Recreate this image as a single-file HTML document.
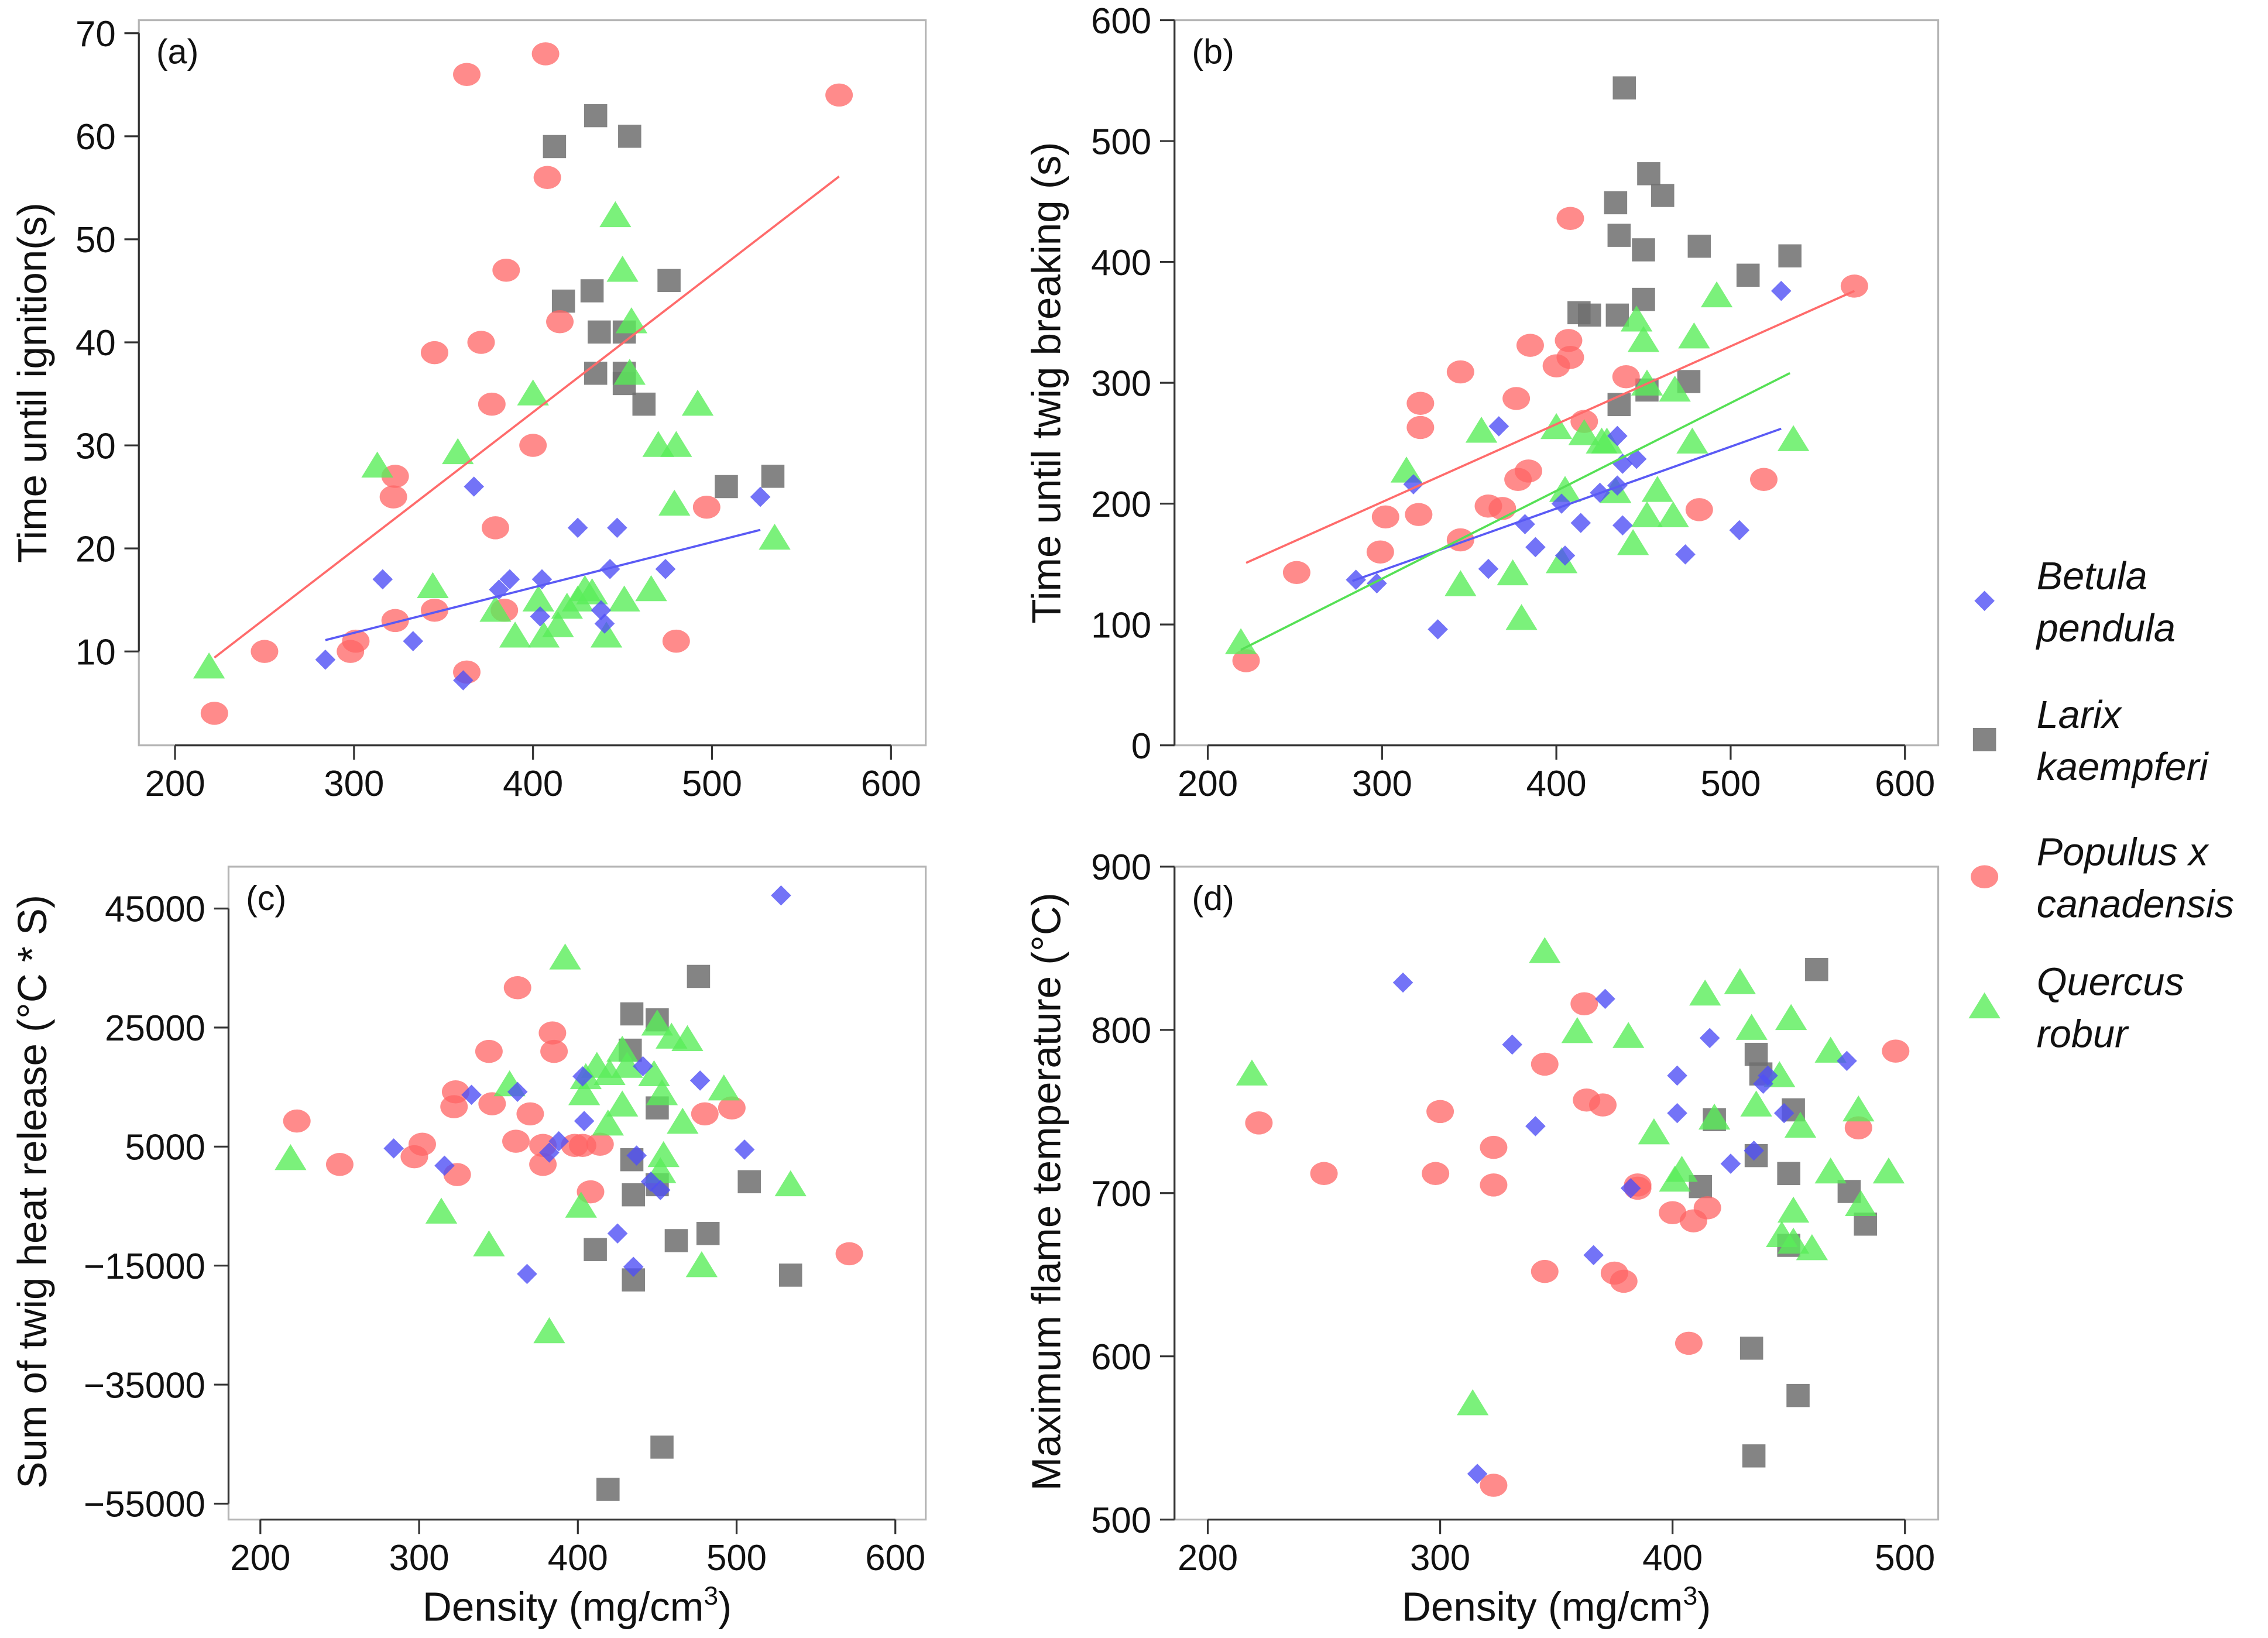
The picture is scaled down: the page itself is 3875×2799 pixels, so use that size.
<!DOCTYPE html>
<html><head><meta charset="utf-8"><style>
html,body{margin:0;padding:0;background:#fff;}
svg{display:block;font-family:"Liberation Sans",sans-serif;}
</style></head><body>
<svg id="fig" width="3875" height="2799" viewBox="0 0 1568 1134" preserveAspectRatio="none" xmlns="http://www.w3.org/2000/svg"></svg>
<script>
// ---- Panel (a): time until ignition ----
const aBetX=[284,316,333,361,367,381,387,404,405,425,438,440,443,447,474,527];
const aBetY=[9.2,17,11,7.2,26,16,17,13.4,17,22,14,12.7,18,22,18,25];
const aLarX=[412,435,454,417,433,437,435,451,451,462,476,508,534,451];
const aLarY=[59,62,60,44,45,41,37,37,36,34,46,26,27,41,41];
const aPopX=[222,250,298,301,323,322,323,345,345,363,363,371,377,379,385,384,400,407,408,415,480,497,571];
const aPopY=[4,10,10,11,27,25,13,39,14,66,8,40,34,22,47,14,30,68,56,42,11,24,64];
const aQueX=[219,313,344,358,379,390,400,403,406,414,419,425,429,433,441,446,450,451,455,454,466,470,480,479,492,535];
const aQueY=[8.5,28,16.3,29.3,14,11.5,35,15,11.5,12.5,14.3,15,16,15.7,11.5,52.3,47,15,42,37,16,30,30,24.3,34,21];
const aLineBet=[[284,11.1],[527,21.8]];
const aLinePop=[[222,9.4],[571,56.1]];
// ---- Panel (b): time until twig breaking ----
const bBetX=[285,297,318,332,361,367,382,388,403,405,414,425,435,435,438,438,446,474,505,529];
const bBetY=[137,134,216,96,146,264,183,164,200,157,184,209,215,256,182,233,237,158,178,376];
const bLarX=[439,453,434,461,436,450,482,510,534,413,419,435,450,436,452,476];
const bLarY=[544,473,449,455,422,410,413,389,405,358,356,356,369,282,294,301];
const bPopX=[222,251,299,302,322,322,321,345,345,361,369,377,378,384,385,400,408,407,408,416,440,482,519,571];
const bPopY=[70,143,160,189,283,263,191,309,170,198,196,287,220,227,331,314,436,335,321,268,305,195,220,380];
const bQueX=[219,314,345,357,375,380,400,403,405,416,426,429,434,444,446,450,452,452,458,467,468,479,478,492,536];
const bQueY=[85,227,133,260,142,105,263,152,211,258,251,251,210,167,352,335,299,190,211,190,294,338,251,372,253];
const bLineBet=[[283,136],[529,262]];
const bLinePop=[[222,151],[571,376]];
const bLineQue=[[219,79],[534,308]];
// ---- Panel (c): sum of twig heat release ----
const cBetX=[284,316,333,362,368,382,388,404,403,425,435,437,441,446,452,477,505,528];
const cBetY=[4700,1800,13700,14200,-16400,4000,5900,9300,16800,-9600,-15200,3500,18500,-900,-2300,16100,4500,47200];
const cLarX=[419,433,434,450,453,476,411,434,435,435,450,450,462,482,508,534];
const cLarY=[-52600,21200,27300,26300,-45500,33600,-12300,2800,-3100,-17400,-1400,11500,-10800,-9600,-900,-16600];
const cPopX=[223,250,297,302,324,323,322,346,344,362,361,370,378,378,384,385,398,403,408,414,480,497,571];
const cPopY=[9300,2000,3300,5400,300,14200,11700,12200,21000,31700,5900,10500,2000,5200,24100,21000,5200,5200,-2600,5400,10500,11500,-13000];
const cQueX=[219,314,344,357,382,392,402,404,405,412,419,420,428,428,431,448,450,452,453,454,459,466,469,478,492,534];
const cQueY=[3000,-6000,-11500,15400,-26100,36700,-5000,13900,16600,18500,8800,17300,12000,21200,18500,17100,25600,800,13900,3500,23400,9100,23000,-15000,14700,-1400];
// ---- Panel (d): maximum flame temperature ----
const dBetX=[284,316,331,341,366,371,382,402,402,416,425,435,439,441,448,475];
const dBetY=[829,528,791,741,662,819,703,772,749,795,718,726,767,772,749,781];
const dLarX=[418,412,434,435,436,438,436,450,452,450,454,462,476,483];
const dLarY=[745,704,605,539,785,773,723,712,751,668,576,837,701,681];
const dPopX=[222,250,300,298,323,323,323,345,345,362,363,370,375,379,385,385,400,407,409,415,480,496];
const dPopY=[743,712,750,712,728,705,521,779,652,816,757,754,651,646,705,703,688,608,683,691,740,787];
const dQueX=[219,314,345,359,381,392,401,404,414,418,429,434,436,446,451,452,455,452,447,460,468,468,480,481,493];
const dQueY=[773,571,848,799,796,737,708,714,822,746,829,801,754,772,807,689,741,670,674,666,713,787,751,693,713];
// tick labels
const aYTicks=[10,20,30,40,50,60,70];
const bYTicks=[0,100,200,300,400,500,600];
const cYTicks=[-55000,-35000,-15000,5000,25000,45000];
const dYTicks=[500,600,700,800,900];
const xTicks6=[200,300,400,500,600];
const xTicks5=[200,300,400,500];

const NS="http://www.w3.org/2000/svg";
const svg=document.getElementById('fig');
function mk(tag,attrs,parent){const e=document.createElementNS(NS,tag);for(const k in attrs)e.setAttribute(k,attrs[k]);(parent||svg).appendChild(e);return e;}

const BLUE="rgba(80,80,245,0.8)",GREY="rgba(110,110,110,0.85)",RED="rgba(255,100,100,0.75)",GREEN="rgba(90,238,90,0.8)";

function marker(g,kind,x,y){
  let e;
  if(kind==='bet'){e=mk('polygon',{points:`${x},${y-7} ${x+7},${y} ${x},${y+7} ${x-7},${y}`,fill:BLUE},g);
    }
  else if(kind==='lar'){e=mk('rect',{x:x-8,y:y-8,width:16,height:16,fill:GREY},g);
    }
  else if(kind==='pop'){e=mk('ellipse',{cx:x,cy:y,rx:9.5,ry:8,fill:RED},g);
    }
  else {e=mk('polygon',{points:`${x},${y-10} ${x+11},${y+8} ${x-11},${y+8}`,fill:GREEN},g);
    }
  
}

function panel(cfg){
  const g=mk('g',{});
  
  
  const sx=v=>cfg.px0+(v-cfg.x0)*(cfg.px1-cfg.px0)/(cfg.x1-cfg.x0);
  const sy=v=>cfg.py0+(v-cfg.y0)*(cfg.py1-cfg.py0)/(cfg.y1-cfg.y0);
  const box=mk('rect',{x:cfg.L,y:cfg.T,width:cfg.R-cfg.L,height:cfg.B-cfg.T,fill:'none',stroke:'#b5b5b5','stroke-width':1.3},g);
  
  const ya=mk('g',{},g);
  mk('line',{x1:cfg.L,x2:cfg.L,y1:sy(cfg.yt[0]),y2:sy(cfg.yt[cfg.yt.length-1]),stroke:'#333','stroke-width':1.3},ya);
  cfg.yt.forEach(t=>{const y=sy(t);
    mk('line',{x1:cfg.L-10,x2:cfg.L,y1:y,y2:y,stroke:'#333','stroke-width':1.3},ya);
    const tx=mk('text',{x:cfg.L-16,y:y+9,'text-anchor':'end','font-size':25,fill:'#111'},ya);
    tx.textContent=(t<0?'\u2212'+(-t):String(t));
    });
  const xa=mk('g',{},g);
  mk('line',{x1:sx(cfg.xt[0]),x2:sx(cfg.xt[cfg.xt.length-1]),y1:cfg.B,y2:cfg.B,stroke:'#333','stroke-width':1.3},xa);
  cfg.xt.forEach(t=>{const x=sx(t);
    mk('line',{x1:x,x2:x,y1:cfg.B,y2:cfg.B+10,stroke:'#333','stroke-width':1.3},xa);
    const tx=mk('text',{x:x,y:cfg.B+35,'text-anchor':'middle','font-size':25,fill:'#111'},xa);
    tx.textContent=String(t);
    });
  const lab=mk('text',{x:cfg.L+12,y:cfg.T+30,'font-size':24,fill:'#111'},g);
  lab.textContent=cfg.label;
  const yt=mk('text',{x:0,y:0,'text-anchor':'middle','font-size':28,fill:'#111',transform:`translate(${cfg.ytx},${cfg.yty}) rotate(-90)`},g);
  yt.textContent=cfg.ytitle;
  if(cfg.xtitle){const xt=mk('text',{x:(cfg.L+cfg.R)/2,y:cfg.B+70,'text-anchor':'middle','font-size':28,fill:'#111'},g);
    xt.innerHTML='Density (mg/cm<tspan dy="-11" font-size="18">3</tspan><tspan dy="11">)</tspan>';
    }
  const pts=mk('g',{},g);
  cfg.series.forEach(s=>{s.x.forEach((v,i)=>marker(pts,s.k,sx(v),sy(s.y[i])));});
  (cfg.lines||[]).forEach(l=>{const ln=mk('line',{x1:sx(l.d[0][0]),y1:sy(l.d[0][1]),x2:sx(l.d[1][0]),y2:sy(l.d[1][1]),stroke:l.c,'stroke-width':1.5},g);
    });
}

panel({name:'panel-a-ignition',L:96,R:640,T:14,B:516,x0:200,x1:600,px0:121,px1:616,y0:70,y1:10,py0:23,py1:451,
  xt:xTicks6,yt:aYTicks,label:'(a)',ytitle:'Time until ignition(s)',ytx:32,yty:265,
  series:[{k:'lar',x:aLarX,y:aLarY},{k:'pop',x:aPopX,y:aPopY},{k:'que',x:aQueX,y:aQueY},{k:'bet',x:aBetX,y:aBetY}],
  lines:[{d:aLineBet,c:'#5a5af5'},{d:aLinePop,c:'#ff6b6b'}]});
panel({name:'panel-b-breaking',L:812,R:1340,T:14,B:516,x0:200,x1:600,px0:835,px1:1317,y0:0,y1:600,py0:516,py1:14,
  xt:xTicks6,yt:bYTicks,label:'(b)',ytitle:'Time until twig breaking (s)',ytx:733,yty:265,
  series:[{k:'lar',x:bLarX,y:bLarY},{k:'pop',x:bPopX,y:bPopY},{k:'que',x:bQueX,y:bQueY},{k:'bet',x:bBetX,y:bBetY}],
  lines:[{d:bLineBet,c:'#5a5af5'},{d:bLinePop,c:'#ff6b6b'},{d:bLineQue,c:'#55e055'}]});
panel({name:'panel-c-heat-release',L:158,R:640,T:600,B:1052,x0:200,x1:600,px0:180,px1:619,y0:45000,y1:-55000,py0:629,py1:1041,
  xt:xTicks6,yt:cYTicks,label:'(c)',ytitle:'Sum of twig heat release (°C * S)',ytx:32,yty:825,xtitle:true,
  series:[{k:'lar',x:cLarX,y:cLarY},{k:'pop',x:cPopX,y:cPopY},{k:'que',x:cQueX,y:cQueY},{k:'bet',x:cBetX,y:cBetY}]});
panel({name:'panel-d-flame-temperature',L:812,R:1340,T:600,B:1052,x0:200,x1:500,px0:835,px1:1317,y0:900,y1:500,py0:600,py1:1052,
  xt:xTicks5,yt:dYTicks,label:'(d)',ytitle:'Maximum flame temperature (°C)',ytx:733,yty:825,xtitle:true,
  series:[{k:'lar',x:dLarX,y:dLarY},{k:'pop',x:dPopX,y:dPopY},{k:'que',x:dQueX,y:dQueY},{k:'bet',x:dBetX,y:dBetY}]});

const leg=mk('g',{});


const legItems=[['bet','Betula','pendula',416],['lar','Larix','kaempferi',512],['pop','Populus x','canadensis',607],['que','Quercus','robur',697]];
legItems.forEach(it=>{
  const eg=mk('g',{},leg);
  
  
  marker(eg,it[0],1372,it[3]);
  const t=mk('text',{x:1408,y:it[3]-8,'font-size':27,'font-style':'italic',fill:'#111'},eg);t.textContent=it[1];
  const t2=mk('text',{x:1408,y:it[3]+28,'font-size':27,'font-style':'italic',fill:'#111'},eg);t2.textContent=it[2];
});
</script>
</body></html>
